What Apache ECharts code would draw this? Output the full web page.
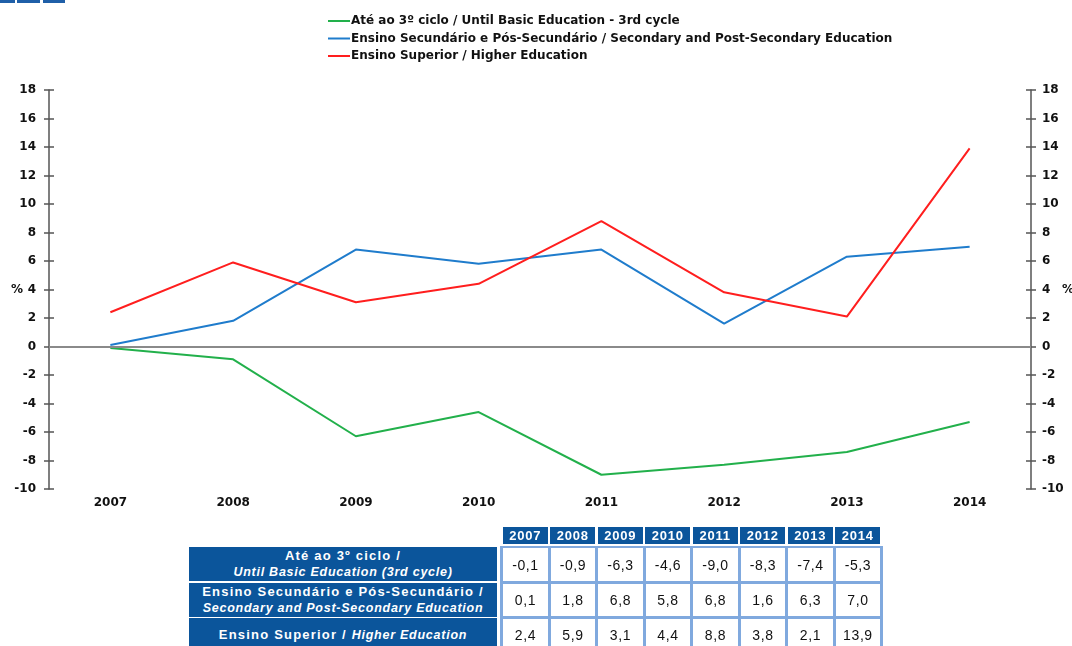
<!DOCTYPE html>
<html>
<head>
<meta charset="utf-8">
<script src="https://cdn.jsdelivr.net/npm/echarts@6/dist/echarts.min.js"></script>
<style>
  html, body { margin: 0; padding: 0; background: #fff; }
  #wrap { position: relative; width: 1072px; height: 646px; overflow: hidden; }
  #chart { position: absolute; left: 0; top: 0; width: 1072px; height: 646px; }
  #table { position: absolute; left: 0; top: 0; width: 1072px; height: 646px; font-family: "Liberation Sans", Arial, sans-serif; }
  .cell { position: absolute; box-sizing: border-box; display: flex; align-items: center; justify-content: center; text-align: center; white-space: nowrap; }
  .hdr { background: #0b559b; color: #fff; font-weight: bold; font-size: 13px; letter-spacing: 0.8px; }
  .lbl { background: #0b559b; color: #fff; font-weight: bold; font-size: 13px; line-height: 16px; letter-spacing: 1.2px; flex-direction: column; }
  .lbl i { font-size: 12.5px; letter-spacing: 0.75px; }
  .val { background: #fff; color: #111; font-size: 14px; letter-spacing: 0.6px; }
</style>
</head>
<body>
<div id="wrap">
  <div id="chart"></div>
  <div id="table"></div>
</div>
<script>
var years = ['2007', '2008', '2009', '2010', '2011', '2012', '2013', '2014'];
var basicName = 'Até ao 3º ciclo / Until Basic Education - 3rd cycle';
var secondaryName = 'Ensino Secundário e Pós-Secundário / Secondary and Post-Secondary Education';
var higherName = 'Ensino Superior / Higher Education';
var basicValues = [-0.1, -0.9, -6.3, -4.6, -9.0, -8.3, -7.4, -5.3];
var secondaryValues = [0.1, 1.8, 6.8, 5.8, 6.8, 1.6, 6.3, 7.0];
var higherValues = [2.4, 5.9, 3.1, 4.4, 8.8, 3.8, 2.1, 13.9];

var tableRows = [
    { html: 'Até ao 3º ciclo /<br><i>Until Basic Education (3rd cycle)</i>', values: basicValues },
    { html: 'Ensino Secundário e Pós-Secundário /<br><i>Secondary and Post-Secondary Education</i>', values: secondaryValues },
    { html: '<span>Ensino Superior / <i>Higher Education</i></span>', values: higherValues }
];

var chart = echarts.init(document.getElementById('chart'));
var fontFamily = '"DejaVu Sans", Verdana, sans-serif';

function valueAxis(position, withLabels, tickInside) {
    return {
        type: 'value',
        position: position,
        min: -10,
        max: 18,
        interval: 2,
        name: withLabels ? '%' : '',
        nameLocation: 'middle',
        nameRotate: 0,
        nameMoveOverlap: false,
        nameGap: position === 'left' ? 26 : 31,
        nameTextStyle: { color: '#111', fontWeight: 'bold', fontSize: 12, fontFamily: fontFamily },
        axisLine: { show: withLabels, lineStyle: { color: '#555', width: 1.5 } },
        axisTick: { show: true, inside: tickInside, length: 5, lineStyle: { color: '#555', width: 1.5 } },
        axisLabel: {
            show: withLabels,
            color: '#111',
            fontWeight: 'bold',
            fontSize: 12,
            fontFamily: fontFamily,
            margin: position === 'left' ? 13 : 11
        },
        splitLine: { show: false }
    };
}

var option = {
    animation: false,
    textStyle: { fontFamily: fontFamily },
    legend: {
        orient: 'vertical',
        left: 328,
        top: 15,
        padding: 0,
        icon: 'rect',
        itemWidth: 22,
        itemHeight: 2,
        itemGap: 5.5,
        textStyle: { color: '#111', fontWeight: 'bold', fontSize: 12, fontFamily: fontFamily, padding: [0, 0, 0, -4] },
        data: [basicName, secondaryName, higherName]
    },
    grid: { left: 49, right: 41, top: 90, bottom: 157, outerBoundsMode: 'none' },
    xAxis: {
        type: 'category',
        data: years,
        boundaryGap: true,
        axisLine: { show: false },
        axisTick: { show: false },
        axisLabel: { color: '#111', fontWeight: 'bold', fontSize: 12, fontFamily: fontFamily, margin: 8 }
    },
    yAxis: [
        valueAxis('left', true, false),
        valueAxis('right', true, false),
        valueAxis('left', false, true),
        valueAxis('right', false, true)
    ],
    graphic: [
        { type: 'rect', shape: { x: 0, y: 0, width: 15, height: 3 }, style: { fill: '#1f5fa8' } },
        { type: 'rect', shape: { x: 17, y: 0, width: 23, height: 3 }, style: { fill: '#1f5fa8' } },
        { type: 'rect', shape: { x: 43, y: 0, width: 22, height: 3 }, style: { fill: '#1f5fa8' } }
    ],
    series: [
        {
            name: basicName,
            type: 'line',
            data: basicValues,
            symbol: 'none',
            lineStyle: { color: '#22b04b', width: 2 },
            itemStyle: { color: '#22b04b' },
            markLine: {
                silent: true,
                symbol: 'none',
                label: { show: false },
                lineStyle: { color: '#8a8a8a', width: 2, type: 'solid' },
                data: [{ yAxis: 0 }]
            },
            z: 3
        },
        {
            name: secondaryName,
            type: 'line',
            data: secondaryValues,
            symbol: 'none',
            lineStyle: { color: '#1f7ccc', width: 2 },
            itemStyle: { color: '#1f7ccc' },
            z: 4
        },
        {
            name: higherName,
            type: 'line',
            data: higherValues,
            symbol: 'none',
            lineStyle: { color: '#ff1e1e', width: 2 },
            itemStyle: { color: '#ff1e1e' },
            z: 5
        }
    ]
};

chart.setOption(option);

// table under the chart
(function buildTable() {
    var host = document.getElementById('table');
    var pitch = 47.5;
    var firstLine = 501.7;
    var rowTops = [548.2, 583.8, 619.2];
    var rowBottoms = [581, 616.5, 651];

    function addCell(cls, left, top, width, height, html) {
        var d = document.createElement('div');
        d.className = 'cell ' + cls;
        d.style.left = left + 'px';
        d.style.top = top + 'px';
        d.style.width = width + 'px';
        d.style.height = height + 'px';
        d.innerHTML = html;
        host.appendChild(d);
    }

    // year header
    years.forEach(function (y, i) {
        addCell('hdr', firstLine + 1 + i * pitch, 527, pitch - 2.5, 16.5, y);
    });

    // light blue frame behind data cells
    var frame = document.createElement('div');
    frame.className = 'cell';
    frame.style.left = (firstLine - 1.5) + 'px';
    frame.style.top = '545.5px';
    frame.style.width = (pitch * years.length + 3) + 'px';
    frame.style.height = '120px';
    frame.style.background = '#80a9de';
    host.appendChild(frame);

    tableRows.forEach(function (row, r) {
        var top = rowTops[r];
        var h = rowBottoms[r] - top;
        addCell('lbl', 189, top - 0.8, 308, h + 1, row.html);
        row.values.forEach(function (v, i) {
            addCell('val', firstLine + 1.5 + i * pitch, top, pitch - 3, h, v.toFixed(1).replace('.', ','));
        });
    });
})();
</script>
</body>
</html>
